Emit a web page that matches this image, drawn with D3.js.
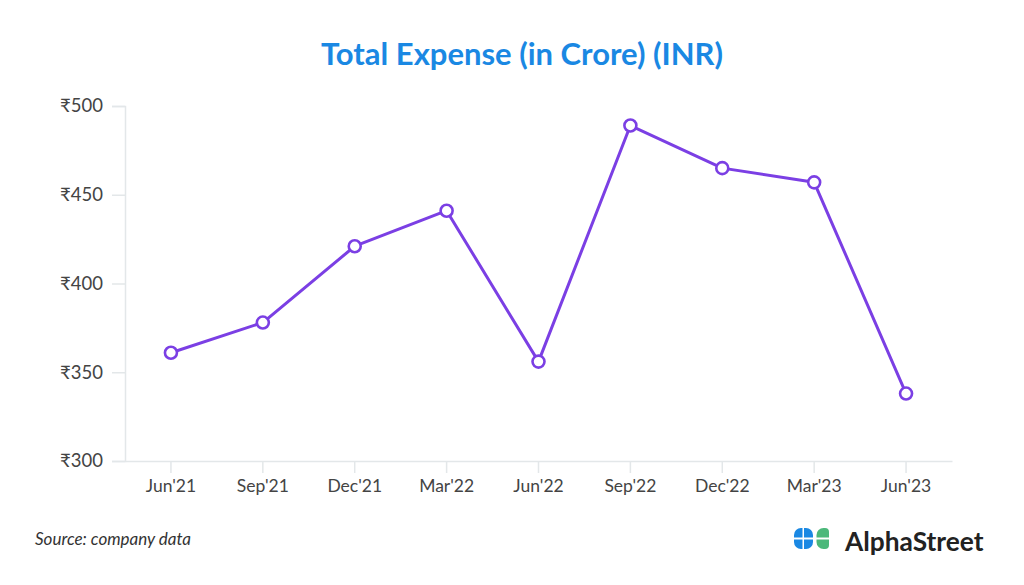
<!DOCTYPE html>
<html>
<head>
<meta charset="utf-8">
<script src="https://cdn.jsdelivr.net/npm/d3@7/dist/d3.min.js"></script>
<style>
  html, body { margin: 0; padding: 0; background: #fff; }
  svg { display: block; font-family: Lato, "Open Sans", sans-serif; }
</style>
</head>
<body>
<svg id="chart" width="1024" height="585"></svg>
<script>
const categories = ["Jun'21","Sep'21","Dec'21","Mar'22","Jun'22","Sep'22","Dec'22","Mar'23","Jun'23"];
const expense = [361, 378, 421, 441, 356, 489, 465, 457, 338];
const yTicks = [300, 350, 400, 450, 500];

(function () {
const svg = d3.select("#chart");
const mLeft = 125, mRight = 952, mTop = 106, mBottom = 461;

const x = d3.scaleBand().domain(categories).range([mLeft, mRight]);
const y = d3.scaleLinear().domain([300, 500]).range([mBottom, mTop]);

// Title
svg.append("text")
  .attr("x", 522).attr("y", 65)
  .attr("text-anchor", "middle")
  .attr("font-size", 31).attr("font-weight", 700)
  .attr("fill", "#1a88e3")
  .text("Total Expense (in Crore) (INR)");

// Y axis
const yAxis = svg.append("g")
  .attr("transform", `translate(${mLeft},0)`)
  .call(d3.axisLeft(y).tickValues(yTicks).tickSize(13).tickPadding(9).tickFormat(d => "₹" + d));
yAxis.select(".domain").attr("stroke", "#e3e7e9").attr("stroke-width", 1.5);
yAxis.selectAll(".tick line").attr("stroke", "#e3e7e9").attr("stroke-width", 1.5);
yAxis.selectAll(".tick text").attr("font-size", 18.5).attr("fill", "#444").attr("font-family", "Lato, sans-serif");

// X axis
const xAxis = svg.append("g")
  .attr("transform", `translate(0,${mBottom})`)
  .call(d3.axisBottom(x).tickSize(12).tickPadding(7).tickSizeOuter(0));
xAxis.select(".domain").attr("stroke", "#e3e7e9").attr("stroke-width", 1.5);
xAxis.selectAll(".tick line").attr("stroke", "#e3e7e9").attr("stroke-width", 1.5);
xAxis.selectAll(".tick text").attr("font-size", 17.5).attr("fill", "#444").attr("font-family", "Lato, sans-serif");

// Line
const cx = d => x(d.c) + x.bandwidth() / 2;
const data = categories.map((c, i) => ({ c, v: expense[i] }));
svg.append("path")
  .datum(data)
  .attr("fill", "none")
  .attr("stroke", "#7b3fe4")
  .attr("stroke-width", 3)
  .attr("stroke-linejoin", "round")
  .attr("d", d3.line().x(cx).y(d => y(d.v)));

svg.selectAll("circle.pt")
  .data(data).enter().append("circle")
  .attr("class", "pt")
  .attr("cx", cx).attr("cy", d => y(d.v))
  .attr("r", 6)
  .attr("fill", "#fff")
  .attr("stroke", "#7b3fe4")
  .attr("stroke-width", 2.6);

// Source
svg.append("text")
  .attr("x", 35).attr("y", 545)
  .attr("font-size", 17).attr("font-style", "italic")
  .attr("fill", "#333")
  .text("Source: company data");

// Logo icon
function roundedRect(x0, y0, w, h, r) { // r = [tl, tr, br, bl]
  const p = d3.path();
  p.moveTo(x0 + r[0], y0);
  p.lineTo(x0 + w - r[1], y0);
  if (r[1]) p.arcTo(x0 + w, y0, x0 + w, y0 + r[1], r[1]);
  p.lineTo(x0 + w, y0 + h - r[2]);
  if (r[2]) p.arcTo(x0 + w, y0 + h, x0 + w - r[2], y0 + h, r[2]);
  p.lineTo(x0 + r[3], y0 + h);
  if (r[3]) p.arcTo(x0, y0 + h, x0, y0 + h - r[3], r[3]);
  p.lineTo(x0, y0 + r[0]);
  if (r[0]) p.arcTo(x0, y0, x0 + r[0], y0, r[0]);
  p.closePath();
  return p.toString();
}
const pieces = [
  { x: 794, y: 528, w: 8.5, h: 9.5, r: [7, 0, 0, 0], c: "#1a88e3" },
  { x: 804, y: 528, w: 9, h: 9.5, r: [0, 7, 0, 0], c: "#1a88e3" },
  { x: 794, y: 539.5, w: 8.5, h: 9.5, r: [0, 0, 0, 7], c: "#1a88e3" },
  { x: 804, y: 539.5, w: 9, h: 9.5, r: [0, 0, 7, 0], c: "#1a88e3" },
  { x: 816.5, y: 528, w: 12.5, h: 9.5, r: [7, 4, 0, 0], c: "#4cb87a" },
  { x: 816.5, y: 539.5, w: 12.5, h: 9.5, r: [0, 0, 4, 7], c: "#4cb87a" }
];
svg.append("g").selectAll("path").data(pieces).enter().append("path")
  .attr("d", d => roundedRect(d.x, d.y, d.w, d.h, d.r))
  .attr("fill", d => d.c);

svg.append("text")
  .attr("x", 845).attr("y", 551)
  .attr("font-size", 26.3).attr("font-weight", 700)
  .attr("fill", "#222")
  .text("AlphaStreet");
})();
</script>
</body>
</html>
